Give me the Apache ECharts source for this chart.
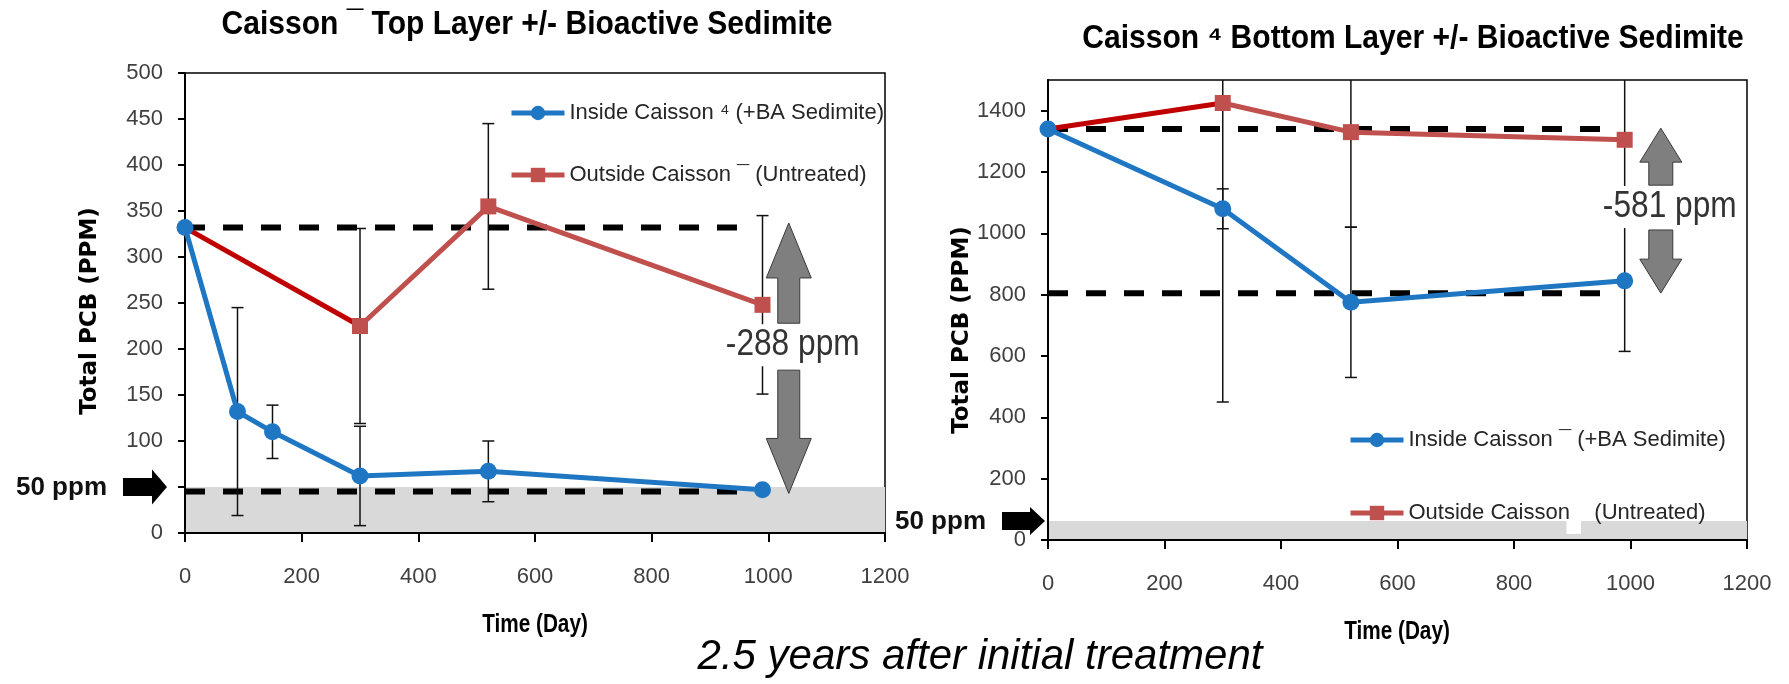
<!DOCTYPE html>
<html>
<head>
<meta charset="utf-8">
<title>Caisson PCB</title>
<script src="https://cdn.jsdelivr.net/npm/echarts@6/dist/echarts.min.js"></script>
<style>
  html, body { margin: 0; padding: 0; background: #fff; }
  #chart { width: 1789px; height: 684px; }
</style>
</head>
<body>
<div id="chart"></div>
<script>
// ---- data: top layer (left chart) ----
const topInsideDays = [0, 90, 150, 300, 520, 990];
const topInsidePcb  = [332, 132, 110, 62, 67, 47];
const topInsideErr  = [0, 113, 29, 54, 33, 0];
const topOutsideDays = [0, 300, 520, 990];
const topOutsidePcb  = [332, 225, 355, 248];
const topOutsideErr  = [0, 106, 90, 97];
const topRefLevels = [332, 45];
const topRefEnd = 975;
const topBand = 50;

// ---- data: bottom layer (right chart) ----
const botInsideDays = [0, 300, 520, 990];
const botInsidePcb  = [1340, 1080, 775, 845];
const botInsideErr  = [0, 65, 245, 230];
const botOutsideDays = [0, 300, 520, 990];
const botOutsidePcb  = [1340, 1425, 1330, 1305];
const botOutsideErr  = [0, 975, 310, 250];
const botRefLevels = [1340, 805];
const botRefEnd = 975;
const botBand = 62;
const botBandGap = [890, 915, 20];      // blank patch in the band: from day, to day, from ppm

const xTicks = [0, 1200, 200];          // min, max, step
const topYTicks = [0, 500, 50];
const botYTicks = [0, 1500, 200];

const topNames = ['Inside Caisson ⁴ (+BA Sedimite)', 'Outside Caisson ¯ (Untreated)'];
const botNames = ['Inside Caisson ¯ (+BA Sedimite)', 'Outside Caisson    (Untreated)'];

// delta annotations (data coords)
const topDelta = { day: 1035, upTip: 337, upBase: 228, downBase: 177, downTip: 43, labelAt: 204, label: '-288 ppm' };
const botDelta = { day: 1052, upTip: 1343, upBase: 1157, downBase: 1011, downTip: 805, labelAt: 1086, label: '-581 ppm' };

const BLUE = '#1f77c4';
const RED = '#c0504d';
const DARKRED = '#c00000';
const sans = '"Liberation Sans", Arial, sans-serif';

const pairs = (xs, ys) => xs.map((x, i) => [x, ys[i]]);

function blockArrow(xc, yTip, yBase, headH, headW, shaftW) {
  const s = yBase > yTip ? 1 : -1;
  const yh = yTip + s * headH;
  return [[xc, yTip], [xc + headW / 2, yh], [xc + shaftW / 2, yh], [xc + shaftW / 2, yBase],
          [xc - shaftW / 2, yBase], [xc - shaftW / 2, yh], [xc - headW / 2, yh]];
}

function rectSeries(gi, x0, x1, y0, y1, fill, z) {
  return {
    type: 'custom', xAxisIndex: gi, yAxisIndex: gi, z, silent: true, clip: true,
    data: [[x0]],
    renderItem(params, api) {
      const a = api.coord([x0, y0]);
      const b = api.coord([x1, y1]);
      return { type: 'rect', shape: { x: a[0], y: b[1], width: b[0] - a[0], height: a[1] - b[1] },
               style: { fill } };
    }
  };
}

function refSeries(gi, level, end) {
  return {
    type: 'line', xAxisIndex: gi, yAxisIndex: gi, z: 1, silent: true, symbol: 'none',
    data: [[0, level], [end, level]],
    lineStyle: { color: '#000', width: 6, type: [20, 18] }
  };
}

function errorSeries(gi, xs, ys, errs) {
  return {
    type: 'custom', xAxisIndex: gi, yAxisIndex: gi, z: 2, silent: true, clip: true,
    data: xs.map((x, i) => [x, ys[i] - errs[i], ys[i] + errs[i]]).filter((d, i) => errs[i] > 0),
    renderItem(params, api) {
      const lo = api.coord([api.value(0), api.value(1)]);
      const hi = api.coord([api.value(0), api.value(2)]);
      const cw = 6;
      const st = { stroke: '#111', lineWidth: 1.5 };
      return { type: 'group', children: [
        { type: 'line', shape: { x1: lo[0], y1: lo[1], x2: hi[0], y2: hi[1] }, style: st },
        { type: 'line', shape: { x1: lo[0] - cw, y1: lo[1], x2: lo[0] + cw, y2: lo[1] }, style: st },
        { type: 'line', shape: { x1: hi[0] - cw, y1: hi[1], x2: hi[0] + cw, y2: hi[1] }, style: st }
      ]};
    }
  };
}

function dataSeries(gi, names, inX, inY, outX, outY) {
  const outPts = pairs(outX, outY);
  return [
    { type: 'line', xAxisIndex: gi, yAxisIndex: gi, z: 3, symbol: 'none',
      data: outPts.slice(0, 2), lineStyle: { color: DARKRED, width: 5 } },
    { name: names[1], type: 'line', xAxisIndex: gi, yAxisIndex: gi, z: 3,
      data: outPts.slice(1), symbol: 'rect', symbolSize: 16,
      lineStyle: { color: RED, width: 5 }, itemStyle: { color: RED } },
    { name: names[0], type: 'line', xAxisIndex: gi, yAxisIndex: gi, z: 4,
      data: pairs(inX, inY), symbol: 'circle', symbolSize: 17,
      lineStyle: { color: BLUE, width: 5 }, itemStyle: { color: BLUE } }
  ];
}

function deltaSeries(gi, d, headH, headW, shaftW, textDx) {
  return {
    type: 'custom', xAxisIndex: gi, yAxisIndex: gi, z: 6, silent: true, clip: false,
    data: [[d.day]],
    renderItem(params, api) {
      const x = api.coord([d.day, 0])[0];
      const y = v => api.coord([d.day, v])[1];
      const st = { fill: '#7f7f7f', stroke: '#3a3a3a', lineWidth: 1 };
      return { type: 'group', children: [
        { type: 'polygon', shape: { points: blockArrow(x, y(d.upTip), y(d.upBase), headH, headW, shaftW) }, style: st },
        { type: 'polygon', shape: { points: blockArrow(x, y(d.downTip), y(d.downBase), headH, headW, shaftW) }, style: st },
        { type: 'text', x: x + textDx, y: y(d.labelAt), scaleX: 0.88,
          style: { text: d.label, font: '36px ' + sans, fill: '#333', align: 'center',
                   verticalAlign: 'middle', backgroundColor: '#fff', padding: [3, 2] } }
      ]};
    }
  };
}

function limitSeries(gi, level, gap, len, headL, headH, shaftH) {
  return {
    type: 'custom', xAxisIndex: gi, yAxisIndex: gi, z: 6, silent: true, clip: false,
    data: [[0]],
    renderItem(params, api) {
      const p = api.coord([0, level]);
      const xt = p[0] - gap, yc = p[1], xh = xt - headL;
      const pts = [[xt, yc], [xh, yc - headH / 2], [xh, yc - shaftH / 2], [xt - len, yc - shaftH / 2],
                   [xt - len, yc + shaftH / 2], [xh, yc + shaftH / 2], [xh, yc + headH / 2]];
      return { type: 'group', children: [
        { type: 'polygon', shape: { points: pts }, style: { fill: '#000' } },
        { type: 'text', x: xt - len - 16, y: yc + 1,
          style: { text: '50 ppm', font: 'bold 26px ' + sans, fill: '#111', align: 'right', verticalAlign: 'middle' } }
      ]};
    }
  };
}

function xAxis(gi) {
  return {
    gridIndex: gi, type: 'value', min: xTicks[0], max: xTicks[1], interval: xTicks[2],
    axisLine: { show: true, onZero: false, lineStyle: { color: '#000', width: 2 } },
    axisTick: { show: true, length: 9, lineStyle: { color: '#000', width: 2 } },
    splitLine: { show: false },
    axisLabel: { color: '#404040', fontSize: 22, fontFamily: sans, margin: 33, formatter: v => String(v) }
  };
}

function yAxis(gi, ticks, showMax) {
  return {
    gridIndex: gi, type: 'value', min: ticks[0], max: ticks[1], interval: ticks[2],
    axisLine: { show: true, onZero: false, lineStyle: { color: '#000', width: 2 } },
    axisTick: { show: true, length: 7, lineStyle: { color: '#000', width: 2 } },
    splitLine: { show: false },
    axisLabel: { color: '#404040', fontSize: 22, fontFamily: sans, margin: 22,
                 showMaxLabel: showMax, formatter: v => String(v) }
  };
}

function legend(left, top, gap, names) {
  return {
    orient: 'vertical', left, top, itemWidth: 53, itemHeight: 18, itemGap: gap,
    selectedMode: false, data: names,
    lineStyle: { width: 5 },
    textStyle: { fontFamily: sans, fontSize: 22, color: '#262626' }
  };
}

function label(text, x, y, font, scaleX, rotation) {
  return { type: 'text', x, y, scaleX, rotation: rotation || 0,
           style: { text, font, fill: '#000', align: 'center', verticalAlign: 'middle' } };
}

const chart = echarts.init(document.getElementById('chart'));
chart.setOption({
  animation: false,
  backgroundColor: '#fff',
  grid: [
    { left: 185, top: 73, width: 700, height: 460, show: true, borderColor: '#000', borderWidth: 1.5,
      backgroundColor: 'transparent', containLabel: false, outerBoundsMode: 'none' },
    { left: 1048, top: 80, width: 699, height: 460, show: true, borderColor: '#000', borderWidth: 1.5,
      backgroundColor: 'transparent', containLabel: false, outerBoundsMode: 'none' }
  ],
  xAxis: [xAxis(0), xAxis(1)],
  yAxis: [yAxis(0, topYTicks, true), yAxis(1, botYTicks, false)],
  legend: [legend(504, 97, 40, topNames), legend(1343, 424, 51, botNames)],
  graphic: [
    label('Caisson ¯ Top Layer +/- Bioactive Sedimite', 527, 25, 'bold 33px ' + sans, 0.91),
    label('Caisson ⁴ Bottom Layer +/- Bioactive Sedimite', 1413, 39, 'bold 33px ' + sans, 0.91),
    label('Total PCB (PPM)', 90, 311, 'bold 23px "DejaVu Sans", sans-serif', 1, Math.PI / 2),
    label('Total PCB (PPM)', 962, 330, 'bold 23px "DejaVu Sans", sans-serif', 1, Math.PI / 2),
    label('Time (Day)', 535, 625, 'bold 25px ' + sans, 0.83),
    label('Time (Day)', 1397, 632, 'bold 25px ' + sans, 0.83),
    label('2.5 years after initial treatment', 980, 657, 'italic 42px ' + sans, 1)
  ],
  series: [
    rectSeries(0, xTicks[0], xTicks[1], 0, topBand, '#d9d9d9', 0),
    ...topRefLevels.map(v => refSeries(0, v, topRefEnd)),
    errorSeries(0, topOutsideDays, topOutsidePcb, topOutsideErr),
    errorSeries(0, topInsideDays, topInsidePcb, topInsideErr),
    ...dataSeries(0, topNames, topInsideDays, topInsidePcb, topOutsideDays, topOutsidePcb),
    deltaSeries(0, topDelta, 55, 45, 22, 4),
    limitSeries(0, topBand, 18, 44, 15, 35, 18),

    rectSeries(1, xTicks[0], xTicks[1], 0, botBand, '#d9d9d9', 0),
    rectSeries(1, botBandGap[0], botBandGap[1], botBandGap[2], botBand, '#fff', 0),
    ...botRefLevels.map(v => refSeries(1, v, botRefEnd)),
    errorSeries(1, botOutsideDays, botOutsidePcb, botOutsideErr),
    errorSeries(1, botInsideDays, botInsidePcb, botInsideErr),
    ...dataSeries(1, botNames, botInsideDays, botInsidePcb, botOutsideDays, botOutsidePcb),
    deltaSeries(1, botDelta, 34, 42, 24, 9),
    limitSeries(1, botBand, 3, 43, 15, 28, 18)
  ]
});
window.addEventListener('resize', () => chart.resize());
</script>
</body>
</html>
